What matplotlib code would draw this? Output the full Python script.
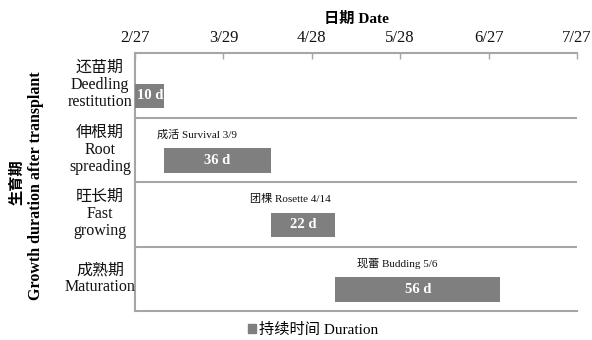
import matplotlib
matplotlib.use("Agg")
import matplotlib.pyplot as plt
import matplotlib.transforms as mtransforms
from matplotlib.patches import Patch

plt.rcParams['font.family'] = ['Liberation Serif', 'Noto Sans CJK SC']

# Growth stages (top to bottom)
stage_cn = ['还苗期', '伸根期', '旺长期', '成熟期']
stage_en = ['Deedling\nrestitution', 'Root\nspreading', 'Fast\ngrowing', 'Maturation']
# Start of each stage, in days after transplanting on 2/27
start_day = [0, 10, 46, 68]
duration_days = [10, 36, 22, 56]
event_text = ['', '成活 Survival 3/9', '团棵 Rosette 4/14', '现蕾 Budding 5/6']
date_ticks = [0, 30, 60, 90, 120, 150]
date_labels = ['2/27', '3/29', '4/28', '5/28', '6/27', '7/27']

bar_color = '#7f7f7f'
line_color = '#a6a6a6'

fig = plt.figure(figsize=(5.92, 3.4), dpi=100)
W, H = 592, 340
ax = fig.add_axes([135 / W, 1 - 311 / H, (577 - 135) / W, (311 - 53) / H])

ys = list(range(len(stage_cn)))
bar_shift = 0.165
bar_h = 0.38
ax.barh([y + bar_shift for y in ys], duration_days, left=start_day,
        height=bar_h, color=bar_color, label='持续时间 Duration', zorder=3)

for y, s, d in zip(ys, start_day, duration_days):
    ax.text(s + d / 2, y + bar_shift, f'{d} d', ha='center', va='center',
            color='white', fontsize=10.5, fontweight='bold', zorder=4)

# Event annotations above the bars
event_shift = [0, -7.0, -4.4, -6.9]
for y, s, d, t, dx in zip(ys, start_day, duration_days, event_text, event_shift):
    if t:
        ax.text(s + d / 2 + dx, y - 0.5 + 0.27, t, ha='center', va='center',
                fontsize=8, color='#111111', zorder=4)

# Row separators
for y in ys[:-1]:
    ax.axhline(y + 0.5, color=line_color, lw=1.5, zorder=1)

ax.set_xlim(date_ticks[0], date_ticks[-1])
ax.set_ylim(len(ys) - 0.5, -0.5)

ax.xaxis.tick_top()
ax.xaxis.set_label_position('top')
ax.set_xticks(date_ticks)
ax.set_xticklabels(date_labels)
ax.tick_params(axis='x', direction='in', length=4, width=1, color=line_color,
               labelsize=12, labelcolor='#111111', pad=5)
ax.set_xlabel('日期 Date', fontsize=11, fontweight='bold', labelpad=5)
ax.set_yticks([])

for side in ['top', 'left', 'bottom']:
    ax.spines[side].set_color(line_color)
    ax.spines[side].set_linewidth(1.5)
ax.spines['right'].set_visible(False)

# Two-language category labels
trans = mtransforms.blended_transform_factory(ax.transAxes, ax.transData)
label_x = (100 - 135) / (577 - 135)
for y, cn, en in zip(ys, stage_cn, stage_en):
    ax.text(label_x, y, cn + '\n' + en, transform=trans, ha='center', va='center',
            fontsize=11.5, linespacing=1.1, color='#111111')

fig.text(17 / W, 1 - 182 / H, '生育期', rotation=90, ha='center', va='center',
         fontsize=11, fontweight='bold')
fig.text(36 / W, 1 - 186 / H, 'Growth duration after transplant', rotation=90,
         ha='center', va='center', fontsize=11.5, fontweight='bold')

fig.legend(handles=[Patch(color=bar_color, label='持续时间 Duration')],
           loc='center', bbox_to_anchor=(313 / W, 1 - 330 / H), frameon=False,
           fontsize=11, handlelength=0.5, handleheight=0.5, handletextpad=0.2,
           borderpad=0)

fig.savefig('out.png', dpi=100, facecolor='white')
